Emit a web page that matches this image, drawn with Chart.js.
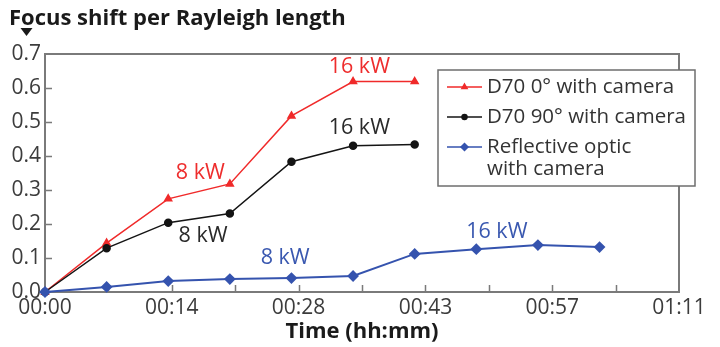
<!DOCTYPE html>
<html>
<head>
<meta charset="utf-8">
<script src="https://cdn.jsdelivr.net/npm/chart.js@4.4.1/dist/chart.umd.min.js"></script>
<style>
  html, body { margin: 0; padding: 0; background: #fff; }
  #wrap { width: 720px; height: 347px; }
</style>
</head>
<body>
<div id="wrap"><canvas id="chart" width="720" height="347"></canvas></div>
<script>
// sample times in minutes
const minutes = [0, 6.9, 13.8, 20.7, 27.6, 34.5, 41.4, 48.3, 55.2, 62.1];

// focus shift per Rayleigh length
const d70Zero = [0, 0.144, 0.274, 0.318, 0.518, 0.619, 0.619];
const d70Ninety = [0, 0.129, 0.204, 0.231, 0.383, 0.430, 0.434];
const reflective = [0, 0.015, 0.032, 0.038, 0.041, 0.047, 0.112, 0.126, 0.138, 0.132];

const seriesNames = ['D70 0° with camera', 'D70 90° with camera', ['Reflective optic', 'with camera']];
const seriesColors = ['#f02a2a', '#141414', '#3553ae'];
const noteColors = ['#ee2d2d', '#2a2a2a', '#3a58b0'];

const xTicks = [0, 14.2, 28.4, 42.6, 56.8, 71];
const yTicks = [0, 0.1, 0.2, 0.3, 0.4, 0.5, 0.6, 0.7];

// laser power notes: [series, text, minutes, value]
const powerNotes = [
  [0, '8 kW', 17.4, 0.350],
  [0, '16 kW', 35.2, 0.662],
  [1, '16 kW', 35.2, 0.482],
  [1, '8 kW', 17.7, 0.165],
  [2, '8 kW', 26.9, 0.100],
  [2, '16 kW', 50.6, 0.176]
];

const FONT = "'Open Sans', sans-serif";

function pts(vals) {
  return vals.map((v, i) => ({ x: minutes[i], y: v }));
}

function fmtTime(m) {
  const t = Math.round(m);
  const h = Math.floor(t / 60), mm = t % 60;
  return String(h).padStart(2, '0') + ':' + String(mm).padStart(2, '0');
}

const styles = ['triangle', 'circle', 'rectRot'];
const radii = [4, 3.5, 4.5];

const decor = {
  id: 'decor',
  beforeDatasetsDraw(chart) {
    const { ctx, chartArea: a } = chart;
    const xs = chart.scales.x, ys = chart.scales.y;
    ctx.save();
    ctx.strokeStyle = '#7a7a7a';
    ctx.lineWidth = 2;
    ctx.strokeRect(a.left, a.top, a.right - a.left, a.bottom - a.top);
    ctx.lineWidth = 1.5;
    ctx.beginPath();
    // y ticks pointing into the plot
    yTicks.slice(1, -1).forEach(v => {
      const y = Math.round(ys.getPixelForValue(v)) + 0.5;
      ctx.moveTo(a.left, y);
      ctx.lineTo(a.left + 7, y);
    });
    // major + minor x ticks pointing up
    for (let i = 1; i < xTicks.length * 2 - 2; i++) {
      const x = Math.round(xs.getPixelForValue(i * xTicks[1] / 2)) + 0.5;
      ctx.moveTo(x, a.bottom);
      ctx.lineTo(x, a.bottom - 7);
    }
    ctx.stroke();
    ctx.restore();
  },
  afterDraw(chart) {
    const { ctx } = chart;
    const xs = chart.scales.x, ys = chart.scales.y;
    ctx.save();

    // title above the y axis
    ctx.fillStyle = '#1a1a1a';
    ctx.font = 'bold 22px ' + FONT;
    ctx.textAlign = 'left';
    ctx.textBaseline = 'alphabetic';
    ctx.fillText('Focus shift per Rayleigh length', 9, 25);
    ctx.beginPath();
    ctx.moveTo(20.5, 28);
    ctx.lineTo(32.5, 28);
    ctx.lineTo(26.5, 36);
    ctx.closePath();
    ctx.fill();

    // power notes
    ctx.font = '21.5px ' + FONT;
    ctx.textAlign = 'center';
    ctx.textBaseline = 'middle';
    powerNotes.forEach(([s, txt, m, v]) => {
      ctx.fillStyle = noteColors[s];
      ctx.fillText(txt, xs.getPixelForValue(m), ys.getPixelForValue(v));
    });

    // legend box
    const lx = 438, ly = 70, lw = 257, lh = 116;
    ctx.fillStyle = '#fff';
    ctx.fillRect(lx, ly, lw, lh);
    ctx.strokeStyle = '#6e6e6e';
    ctx.lineWidth = 1.5;
    ctx.strokeRect(lx, ly, lw, lh);
    ctx.font = '20.5px ' + FONT;
    ctx.textAlign = 'left';
    const rows = [87, 117, 147];
    seriesNames.forEach((name, i) => {
      const y = rows[i];
      ctx.strokeStyle = seriesColors[i];
      ctx.lineWidth = 1.5;
      ctx.beginPath();
      ctx.moveTo(447, y);
      ctx.lineTo(482, y);
      ctx.stroke();
      ctx.fillStyle = seriesColors[i];
      Chart.helpers.drawPoint(ctx, { pointStyle: styles[i], radius: radii[i] - 1, rotation: 0, borderWidth: 1 }, 464.5, y);
      ctx.fillStyle = '#333';
      const lines = Array.isArray(name) ? name : [name];
      lines.forEach((t, k) => ctx.fillText(t, 487, y + k * 22));
    });
    ctx.restore();
  }
};

const series = [pts(d70Zero), pts(d70Ninety), pts(reflective)];

new Chart(document.getElementById('chart'), {
  type: 'line',
  data: {
    datasets: series.map((d, i) => ({
      label: Array.isArray(seriesNames[i]) ? seriesNames[i].join(' ') : seriesNames[i],
      data: d,
      borderColor: seriesColors[i],
      backgroundColor: seriesColors[i],
      pointBackgroundColor: seriesColors[i],
      pointStyle: styles[i],
      pointRadius: radii[i],
      borderWidth: i === 2 ? 2 : 1.5,
      tension: 0,
      clip: false
    })).reverse()
  },
  options: {
    responsive: false,
    animation: false,
    devicePixelRatio: 1,
    layout: { autoPadding: false, padding: { top: 54, right: 41, left: 0, bottom: 0 } },
    plugins: { legend: { display: false }, tooltip: { enabled: false } },
    scales: {
      x: {
        type: 'linear',
        min: 0,
        max: 71,
        grid: { display: false, drawTicks: false },
        border: { display: false },
        afterFit(s) { s.height = 55; },
        afterBuildTicks(s) { s.ticks = xTicks.map(v => ({ value: v })); },
        ticks: {
          padding: 3,
          color: '#3c3c3c',
          font: { family: FONT, size: 21 },
          maxRotation: 0,
          autoSkip: false,
          callback: v => fmtTime(v)
        },
        title: {
          display: true,
          text: 'Time (hh:mm)',
          color: '#1a1a1a',
          font: { family: FONT, size: 22, weight: 'bold' },
          padding: { top: 0, bottom: 2 }
        }
      },
      y: {
        min: 0,
        max: 0.7,
        grid: { display: false, drawTicks: false },
        border: { display: false },
        afterFit(s) { s.width = 45; },
        afterBuildTicks(s) { s.ticks = yTicks.map(v => ({ value: v })); },
        ticks: {
          padding: 4,
          color: '#3c3c3c',
          font: { family: FONT, size: 21 },
          callback: v => v.toFixed(1)
        }
      }
    }
  },
  plugins: [decor]
});
</script>
</body>
</html>
